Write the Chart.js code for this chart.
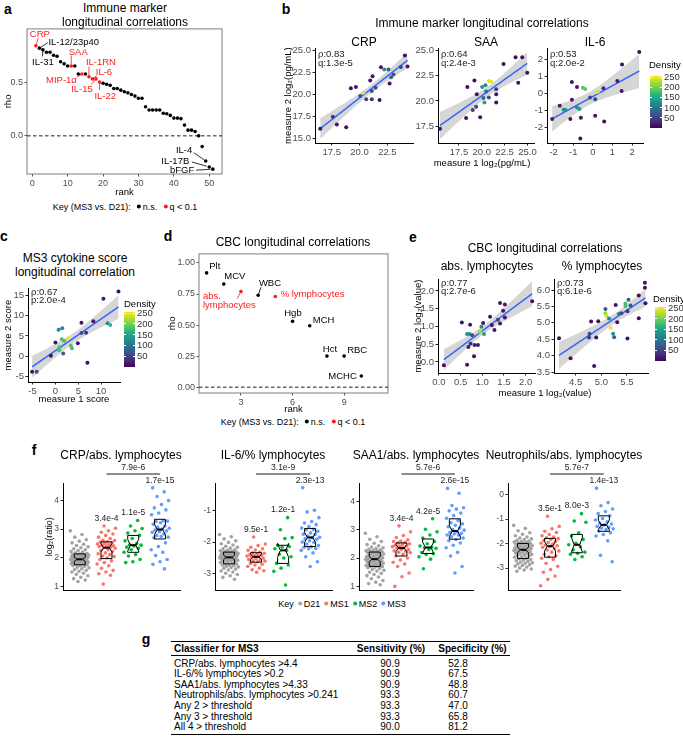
<!DOCTYPE html>
<html><head><meta charset="utf-8">
<script src="https://cdn.jsdelivr.net/npm/chart.js@4.4.1/dist/chart.umd.min.js"></script>
<style>
html,body{margin:0;padding:0;background:#fff;}
#fig{position:relative;width:683px;height:751px;overflow:hidden;font-family:"Liberation Sans",Arial,Helvetica,sans-serif;color:#000;}
.t{position:absolute;white-space:nowrap;line-height:1;}
canvas{position:absolute;}
.dot{display:inline-block;width:4px;height:4px;border-radius:50%;vertical-align:middle;margin:0 2px 1px 4px;}
.rule{position:absolute;background:#000;}
</style></head><body><div id="fig"></div>
<script>
// ================= DATA =================
// panel a
const aRank = [1,2,3,4,5,6,7,8,9,10,11,12,13,14,15,16,17,18,19,20,21,22,23,24,25,26,27,28,29,30,31,32,33,34,35,36,37,38,39,40,41,42,43,44,45,46,47,48,49,50,51];
const aRho = [0.838,0.816,0.800,0.778,0.778,0.750,0.740,0.690,0.670,0.650,
              0.650,0.650,0.575,0.575,0.575,0.550,0.530,0.530,0.500,0.490,
              0.480,0.470,0.440,0.440,0.425,0.410,0.400,0.385,0.370,0.350,
              0.350,0.270,0.240,0.240,0.240,0.240,0.210,0.205,0.190,0.165,
              0.165,0.160,0.100,0.053,0.053,0.040,0.000,-0.100,-0.234,-0.290,-0.310];
const aSigRanks = [1,11,14,16,17,18,19];
const aLabelRanks = [1,2,3,11,14,16,17,18,19,49,50,51];
const aLabelNames = ['CRP','IL-12/23p40','IL-31','SAA','MIP-1α','IL-1RN','IL-6','IL-15','IL-22','IL-4','IL-17B','bFGF'];

// panel b
const bCrpX = [16.47,17.6,17.96,18.8,19.22,19.67,20.06,20.36,20.6,20.96,21.1,21.17,21.1,21.44,21.8,21.92,22.22,22.6,22.7,22.84,23.05,23.71,24.07,24.31];
const bCrpY = [16.05,17.43,16.54,16.24,20.66,20.81,19.79,20.17,19.42,21.55,20.36,22.04,19.42,20.73,19.34,23.05,22.79,22.79,21.22,21.93,22.23,23.09,24.4,23.13];
const bCrpD = [10,40,15,10,10,15,70,250,50,15,60,15,40,60,10,15,130,80,10,80,70,50,10,15];
const bSaaX = [15.42,18.28,18.42,19.01,19.19,19.38,19.45,19.82,20.04,20.18,20.29,20.4,20.48,20.77,21.03,20.77,21.58,21.58,21.58,22.38,23.7,23.99,24.43,24.98];
const bSaaY = [17.27,18.33,21.38,19.11,22.02,19.43,20.66,18.40,21.38,20.28,19.85,21.54,20.92,21.96,21.9,20.34,21.15,20.66,19.85,23.64,24.29,21.8,24.29,22.77];
const bSaaD = [10,10,10,40,10,50,15,10,130,80,140,120,90,240,250,60,50,15,10,10,10,10,10,10];
const bIl6X = [-2.08,-1.69,-1.49,-1.41,-1.15,-1.07,-1.07,-0.81,-0.81,-0.68,-0.64,-0.61,-0.51,-0.39,-0.14,0.12,0.12,0.25,0.54,0.58,1.25,1.47,1.49,2.37];
const bIl6Y = [-1.5,-0.72,-0.96,-0.96,-1.5,-0.37,0.68,0.39,-0.82,-0.92,-2.67,-1.44,0.35,0.27,-0.23,-0.33,-1.31,0.1,0.31,-1.66,0.74,0.16,1.72,2.46];
const bIl6D = [20,20,130,130,15,15,15,15,120,140,10,15,190,190,60,50,15,240,30,10,20,15,10,10];

// panel c
const cX = [-5.1,-4.1,-1.0,0,0.7,1.5,1.4,1.9,0.9,0.8,1.7,2.8,3.4,3.6,4.9,5.7,5.7,6.7,7.0,8.3,10.5,11.4,12.0,13.8];
const cY = [-3.8,-3.8,0.16,3.4,6.5,6.9,4.2,3.8,2.2,1.5,0.7,4.4,2.6,2.0,3.2,8.2,5.7,5.8,-1.6,8.6,14.1,8.1,7.7,15.9];
const cD = [15,60,15,15,120,120,180,180,180,180,80,250,180,180,15,15,60,40,10,15,15,120,170,10];

// panel d
const dRank = [1,2,3,4,5,6,7,8,9,10];
const dRho = [0.92,0.83,0.77,0.74,0.73,0.53,0.495,0.25,0.25,0.09];
const dNames = ['Plt','MCV','abs. lymphocytes','WBC','% lymphocytes','Hgb','MCH','Hct','RBC','MCHC'];
const dSig = [0,0,1,0,1,0,0,0,0,0];

// panel e
const eAbsX = [0.115,0.53,0.65,0.65,0.71,0.72,0.68,0.73,0.77,0.82,0.81,0.90,0.94,0.98,1.02,1.04,1.18,1.22,1.28,1.36,1.41,1.41,1.48,1.52,1.52,2.15];
const eAbsY = [-0.09,1.11,-0.08,0.79,0.79,1.05,0.42,0.51,0.75,0.48,0.16,0.48,0.85,0.99,1.10,0.79,1.27,1.04,0.90,1.19,1.66,1.08,1.44,1.62,1.25,1.71];
const eAbsD = [10,10,10,130,130,15,20,30,70,20,10,15,220,120,15,140,15,15,15,50,15,15,15,15,15,10];
const ePctX = [4.175,4.40,4.76,4.77,4.80,4.86,4.90,4.94,5.08,5.08,5.10,5.15,5.18,5.23,5.25,5.28,5.31,5.34,5.39,5.47,5.47,5.51,5.51,5.53,5.57,5.73,5.73,5.85,5.85,5.86];
const ePctY = [4.53,3.92,4.55,4.67,5.04,3.68,4.55,5.05,5.42,5.29,5.21,5.13,4.85,4.67,4.56,5.54,5.02,5.27,5.29,5.59,5.51,5.35,4.52,5.70,5.53,5.83,5.14,6.22,6.07,5.60];
const ePctD = [10,10,50,60,10,10,10,10,70,220,240,120,250,130,80,10,10,120,60,180,180,40,10,70,70,10,10,10,10,10];

// panel f (log2 ratios per group: D21, MS1, MS2, MS3)
const fGroups = ['D21','MS1','MS2','MS3'];
const fCrpD21 = [2.94,2.81,2.72,2.63,2.58,2.52,2.47,2.43,2.38,2.35,2.31,2.28,2.25,2.22,2.2,2.17,2.15,
  2.13,2.12,2.11,2.1,2.09,2.08,2.07,2.06,2.05,2.04,2.03,2.02,2.0,1.99,1.98,1.96,1.95,
  1.94,1.93,1.92,1.91,1.9,1.88,1.87,1.86,1.85,1.84,1.82,1.81,1.8,1.79,1.78,1.77,1.76,
  1.74,1.72,1.7,1.67,1.65,1.62,1.59,1.56,1.53,1.5,1.46,1.42,1.37,1.32,1.27,1.22,1.17];
const fCrpMS1 = [3.11,3.03,2.94,2.89,2.83,2.78,2.72,2.67,2.61,2.6,2.56,2.55,2.52,2.5,2.48,2.45,2.44,2.42,2.41,2.39,2.37,2.35,2.33,2.28,2.25,2.22,2.17,2.14,2.11,2.06,2.04,2.0,1.94,1.89,1.83,1.78,1.72,1.63,1.56,1.5,1.44,1.39,1.08];
const fCrpMS2 = [3.3,3.11,3.02,2.94,2.86,2.78,2.67,2.59,2.5,2.45,2.44,2.41,2.37,2.33,2.28,2.19,2.11,2.06,1.94,1.86,1.83];
const fCrpMS3 = [4.44,4.3,4.14,4.0,3.86,3.74,3.67,3.56,3.5,3.29,3.27,3.28,3.22,3.17,3.11,3.06,3.03,3.0,2.97,2.94,2.91,2.89,2.83,2.78,2.72,2.74,2.7,2.52,2.39,2.28,2.19,2.08,1.94,1.86,1.77,1.61];
const fIl6D21 = [-1.76,-1.83,-1.9,-1.96,-2.01,-2.05,-2.09,-2.13,-2.16,-2.19,-2.21,-2.24,-2.26,-2.27,-2.29,-2.3,-2.31,
  -2.32,-2.33,-2.34,-2.35,-2.36,-2.37,-2.38,-2.39,-2.4,-2.41,-2.42,-2.43,-2.44,-2.45,-2.46,-2.47,
  -2.48,-2.49,-2.5,-2.51,-2.52,-2.53,-2.54,-2.55,-2.56,-2.57,-2.58,-2.6,-2.61,-2.62,-2.64,-2.66,
  -2.68,-2.69,-2.71,-2.72,-2.74,-2.76,-2.78,-2.8,-2.82,-2.85,-2.88,-2.91,-2.94,-2.98,-3.02,-3.06,-3.11,-3.17];
const fIl6MS1 = [-1.84,-2.06,-2.11,-2.16,-2.21,-2.25,-2.26,-2.31,-2.34,-2.35,-2.38,-2.4,-2.41,-2.42,-2.44,-2.45,-2.48,-2.5,-2.52,-2.55,-2.55,-2.59,-2.6,-2.62,-2.67,-2.7,-2.72,-2.77,-2.82,-2.87,-2.9,-2.95];
const fIl6MS2 = [-1.23,-1.61,-1.86,-1.89,-2.1,-2.14,-2.16,-2.21,-2.26,-2.38,-2.46,-2.5,-2.67,-2.72,-2.82,-2.92,-3.35];
const fIl6MS3 = [-0.29,-1.0,-1.05,-1.23,-1.35,-1.4,-1.45,-1.51,-1.56,-1.6,-1.61,-1.66,-1.71,-1.75,-1.76,-1.81,-1.85,-1.86,-1.9,-1.91,-1.96,-2.0,-2.01,-2.06,-2.11,-2.15,-2.16,-2.2,-2.21,-2.26,-2.34,-2.46,-2.62,-2.77];
const fSaaD21 = [2.87,2.75,2.66,2.58,2.52,2.47,2.43,2.39,2.36,2.33,2.31,2.29,2.27,2.25,2.24,2.23,2.22,
  2.2,2.19,2.17,2.15,2.14,2.12,2.1,2.09,2.07,2.05,2.04,2.02,2.01,1.99,1.98,1.97,1.96,
  1.95,1.93,1.92,1.9,1.88,1.87,1.85,1.83,1.82,1.8,1.78,1.77,1.75,1.74,1.72,1.71,1.7,
  1.68,1.66,1.63,1.6,1.57,1.54,1.5,1.46,1.42,1.38,1.33,1.27,1.21,1.15,1.1,1.06];
const fSaaMS1 = [3.13,2.92,2.79,2.72,2.64,2.6,2.58,2.55,2.53,2.5,2.47,2.45,2.42,2.41,2.4,2.36,2.35,2.3,2.3,2.25,2.24,2.2,2.19,2.13,2.07,2.0,1.93,1.85,1.79,1.7,1.47,1.34,1.0];
const fSaaMS2 = [3.38,3.01,2.92,2.81,2.7,2.58,2.5,2.42,2.38,2.36,2.34,2.3,2.19,2.15,2.12,2.04,1.96,1.62];
const fSaaMS3 = [4.45,4.28,3.85,3.77,3.72,3.66,3.58,3.49,3.4,3.32,3.24,3.2,3.15,3.1,3.06,3.0,2.98,2.92,2.9,2.87,2.85,2.81,2.8,2.75,2.7,2.65,2.61,2.53,2.45,2.36,2.2,2.07,1.7,1.47];
const fNeuD21 = [-1.26,-1.38,-1.48,-1.56,-1.62,-1.68,-1.73,-1.77,-1.81,-1.84,-1.87,-1.9,-1.92,-1.94,-1.96,-1.98,-1.99,
  -2.01,-2.03,-2.05,-2.07,-2.09,-2.1,-2.12,-2.14,-2.15,-2.17,-2.18,-2.2,-2.21,-2.23,-2.24,-2.25,-2.26,
  -2.28,-2.3,-2.32,-2.34,-2.36,-2.38,-2.4,-2.42,-2.45,-2.47,-2.49,-2.51,-2.54,-2.56,-2.59,-2.62,-2.65,
  -2.67,-2.7,-2.72,-2.75,-2.78,-2.8,-2.83,-2.86,-2.89,-2.92,-2.96,-3.0,-3.04,-3.08,-3.13];
const fNeuMS1 = [-0.89,-1.3,-1.4,-1.5,-1.55,-1.63,-1.68,-1.73,-1.76,-1.8,-1.83,-1.88,-1.92,-1.96,-1.99,-2.03,-2.06,-2.09,-2.12,-2.15,-2.2,-2.26,-2.3,-2.35,-2.44,-2.5,-2.54,-2.6,-2.65,-2.8,-2.93,-3.06,-3.17,-3.32,-3.46,-3.72];
const fNeuMS2 = [-0.78,-1.08,-1.13,-1.56,-1.69,-1.83,-1.99,-2.05,-2.13,-2.26,-2.35,-2.4,-2.44,-2.54,-2.65];
const fNeuMS3 = [0.26,-0.33,-0.46,-0.59,-0.69,-0.78,-0.87,-0.98,-1.04,-1.11,-1.17,-1.2,-1.24,-1.3,-1.34,-1.37,-1.4,-1.43,-1.5,-1.56,-1.63,-1.69,-1.89,-2.48,-2.74];
const fPvals = {
  crp:['3.4e-4','1.1e-5','1.7e-15','7.9e-6'],
  il6:['9.5e-1','1.2e-1','2.3e-13','3.1e-9'],
  saa:['3.4e-4','4.2e-5','2.6e-15','5.7e-6'],
  neu:['3.5e-1','8.0e-3','1.4e-13','5.7e-7']
};

// panel g
const gClassifiers = ['CRP/abs. lymphocytes >4.4','IL-6/% lymphocytes >0.2','SAA1/abs. lymphocytes >4.33','Neutrophils/abs. lymphocytes >0.241','Any 2 > threshold','Any 3 > threshold','All 4 > threshold'];
const gSensitivity = ['90.9','90.9','90.9','93.3','93.3','93.3','90.0'];
const gSpecificity = ['52.8','67.5','48.8','60.7','47.0','65.8','81.2'];

// ================= LAYOUT / STYLE =================
const FONT = '"Liberation Sans", Arial, Helvetica, sans-serif';
Chart.defaults.font.family = FONT;
const fig = document.getElementById('fig');
const RED = '#ff1a1a';
const FCOL = ['#a3a3a3','#F8766D','#00BA38','#619CFF'];
const VIR = ['#440154','#472d7b','#3b528b','#2c728e','#21918c','#28ae80','#5ec962','#addc30','#fde725'];
function hex2rgb(h){return [1,3,5].map(i=>parseInt(h.substr(i,2),16));}
function viridis(t){t=Math.max(0,Math.min(1,t));const p=t*(VIR.length-1),i=Math.min(VIR.length-2,Math.floor(p)),f=p-i;const a=hex2rgb(VIR[i]),b=hex2rgb(VIR[i+1]);return 'rgb('+a.map((v,k)=>Math.round(v+(b[k]-v)*f)).join(',')+')';}
const DMAX = 255;
const dcol = d => viridis(d/DMAX);

function T(x,y,s,o){o=o||{};const d=document.createElement('div');d.className='t';
  if(o.html) d.innerHTML=s; else d.textContent=s;
  d.style.fontSize=(o.size||9)+'px'; if(o.bold) d.style.fontWeight='bold'; if(o.color) d.style.color=o.color;
  const ax=o.align==='left'?0:(o.align==='right'?-100:-50);
  d.style.left=x+'px'; d.style.top=y+'px'; d.style.transform='translate('+ax+'%,-50%)';
  fig.appendChild(d); return d;}
function rule(x,y,w,h){const d=document.createElement('div');d.className='rule';d.style.left=x+'px';d.style.top=y+'px';d.style.width=w+'px';d.style.height=h+'px';fig.appendChild(d);}

function lmBand(xs,ys){
  const n=xs.length,mx=xs.reduce((a,b)=>a+b,0)/n,my=ys.reduce((a,b)=>a+b,0)/n;
  let sxx=0,sxy=0;for(let i=0;i<n;i++){sxx+=(xs[i]-mx)**2;sxy+=(xs[i]-mx)*(ys[i]-my);}
  const b=sxy/sxx,a=my-b*mx;let sse=0;for(let i=0;i<n;i++){sse+=(ys[i]-a-b*xs[i])**2;}
  const df=n-2,s=Math.sqrt(sse/df),z=1.959964;
  const t=z+(z**3+z)/(4*df)+(5*z**5+16*z**3+3*z)/(96*df*df);
  const x0=Math.min(...xs),x1=Math.max(...xs),line=[],up=[],lo=[];
  for(let k=0;k<=80;k++){const x=x0+(x1-x0)*k/80,yh=a+b*x,se=s*Math.sqrt(1/n+(x-mx)**2/sxx);
    line.push({x:x,y:yh});up.push({x:x,y:yh+t*se});lo.push({x:x,y:yh-t*se});}
  return {line,up,lo};
}

function makePlot(cfg){
  const [L,T0,R,B]=cfg.box, pt=cfg.pt??6, pr=cfg.pr??6, yW=cfg.yW, xH=cfg.xH;
  const W=yW+(R-L)+pr, Hc=pt+(B-T0)+xH;
  const c=document.createElement('canvas');c.width=W;c.height=Hc;
  c.style.left=(L-yW)+'px';c.style.top=(T0-pt)+'px';c.style.width=W+'px';c.style.height=Hc+'px';
  fig.appendChild(c);
  const tickCol=cfg.frame?'#555':'#222';
  const xt=cfg.xticks||[], yt=cfg.yticks||[];
  const ts=cfg.tickSize||9.5, tts=cfg.titleSize||9.5;
  new Chart(c,{type:'line',data:{datasets:cfg.datasets},
    options:{responsive:false,animation:false,devicePixelRatio:1,events:[],
      layout:{padding:{left:0,top:pt,right:pr,bottom:0},autoPadding:false},
      plugins:{legend:{display:false},tooltip:{enabled:false},title:{display:false}},
      elements:{line:{tension:0}},
      scales:{
        x:{type:'linear',position:'bottom',min:cfg.xmin,max:cfg.xmax,
          afterBuildTicks:s=>{s.ticks=xt.map(v=>({value:v}));},
          afterFit:s=>{s.height=xH;},
          ticks:{display:xt.length>0,autoSkip:false,maxRotation:0,minRotation:0,padding:1.5,color:'#4d4d4d',font:{size:ts},callback:v=>cfg.xfmt?cfg.xfmt(v):String(v)},
          grid:{display:true,drawOnChartArea:false,drawTicks:xt.length>0,tickLength:2.5,tickColor:tickCol,tickWidth:1},
          border:{display:!cfg.frame,color:'#000',width:1},
          title:cfg.xtitle?{display:true,text:cfg.xtitle,color:'#000',font:{size:tts},padding:{top:0,bottom:0}}:{display:false}},
        y:{type:'linear',position:'left',min:cfg.ymin,max:cfg.ymax,
          afterBuildTicks:s=>{s.ticks=yt.map(v=>({value:v}));},
          afterFit:s=>{s.width=yW;},
          ticks:{display:true,autoSkip:false,padding:1.5,color:'#4d4d4d',font:{size:ts},callback:v=>cfg.yfmt?cfg.yfmt(v):String(v)},
          grid:{display:true,drawOnChartArea:false,drawTicks:true,tickLength:2.5,tickColor:tickCol,tickWidth:1},
          border:{display:!cfg.frame,color:'#000',width:1},
          title:cfg.ytitle?{display:true,text:cfg.ytitle,color:'#000',font:{size:tts},padding:{top:cfg.ytp??2,bottom:0}}:{display:false}}
      }},
    plugins:[{id:'custom',afterDatasetsDraw(chart){
      const ctx=chart.ctx,a=chart.chartArea;ctx.save();
      if(cfg.frame){ctx.strokeStyle='#7f7f7f';ctx.lineWidth=1;ctx.strokeRect(a.left,a.top,a.right-a.left,a.bottom-a.top);}
      if(cfg.draw) cfg.draw(chart,ctx);
      ctx.restore();}}]
  });
}

const f1=v=>v.toFixed(1), f0=v=>String(Math.round(v)), f2=v=>v.toFixed(2);

function zeroLine(chart,ctx){const y=chart.scales.y.getPixelForValue(0),a=chart.chartArea;
  ctx.save();ctx.strokeStyle='#000';ctx.lineWidth=0.9;ctx.setLineDash([3.5,2.5]);ctx.beginPath();ctx.moveTo(a.left,y);ctx.lineTo(a.right,y);ctx.stroke();ctx.restore();}

function drawTextLabels(chart,ctx,items){
  ctx.font='9.5px '+FONT;ctx.textBaseline='middle';
  items.forEach(it=>{const px=chart.scales.x.getPixelForValue(it.x),py=chart.scales.y.getPixelForValue(it.y),L=it.lay;
    ctx.fillStyle=it.color;ctx.strokeStyle=it.color;ctx.lineWidth=0.8;
    if(L.lx!==undefined){ctx.beginPath();ctx.moveTo(px+L.lx*0.15,py+L.ly*0.15);ctx.lineTo(px+L.lx,py+L.ly);ctx.stroke();}
    ctx.textAlign=L.align||'center';
    const lines=L.lines||[it.text];
    lines.forEach((s,k)=>ctx.fillText(s,px+L.dx,py+L.dy+k*9.2));
  });
}

// ---------- panel a ----------
const aLay={'CRP':{dx:4,dy:-11.5,lx:2.5,ly:-8},'IL-12/23p40':{dx:9,dy:-6,align:'left',lx:8.5,ly:-5.5},
 'IL-31':{dx:0,dy:12.5,lx:-0.5,ly:6.5},'SAA':{dx:7,dy:-14,lx:0,ly:-10.5},'MIP-1α':{dx:-5,dy:6.3,align:'right',lx:-4.7,ly:2.7},
 'IL-1RN':{dx:12,dy:-14.6,lx:0,ly:-10},'IL-6':{dx:11.5,dy:-7,lx:4.3,ly:-3.3},'IL-15':{dx:-3.2,dy:10.7,align:'right',lx:-4.7,ly:5.7},
 'IL-22':{dx:5.7,dy:14,lx:0,ly:7.7},'IL-4':{dx:-13.4,dy:-11,align:'right',lx:-12,ly:-8.3},
 'IL-17B':{dx:-20,dy:-5.7,align:'right',lx:-17.3,ly:-5},'bFGF':{dx:-18.5,dy:1.7,align:'right',lx:-16.7,ly:1}};
makePlot({box:[27,28,222,174],yW:27,xH:24,pt:6,pr:6,ytp:3,frame:true,tickSize:9,
  xmin:-1.5,xmax:53.6,ymin:-0.355,ymax:0.995,xticks:[0,10,20,30,40,50],yticks:[0,0.5],xfmt:f0,yfmt:f1,
  xtitle:'rank',ytitle:'rho',
  datasets:[
    {data:aRank.map((r,i)=>({x:r,y:aRho[i]})).filter(p=>aSigRanks.includes(p.x)),showLine:false,pointRadius:1.8,pointBorderWidth:0,pointBackgroundColor:RED,clip:false},
    {data:aRank.map((r,i)=>({x:r,y:aRho[i]})).filter(p=>!aSigRanks.includes(p.x)),showLine:false,pointRadius:1.8,pointBorderWidth:0,pointBackgroundColor:'#000',clip:false}
  ],
  draw:(ch,ctx)=>{zeroLine(ch,ctx);
    drawTextLabels(ch,ctx,aLabelRanks.map((r,k)=>({x:r,y:aRho[r-1],text:aLabelNames[k],color:aSigRanks.includes(r)?RED:'#000',lay:aLay[aLabelNames[k]]})));}
});

// ---------- density scatter helper ----------
function densityPlot(o){
  const bd=lmBand(o.xs,o.ys);
  makePlot(Object.assign({xH:16,pt:6,pr:6,
    datasets:[
      {data:o.xs.map((x,i)=>({x:x,y:o.ys[i]})),showLine:false,pointRadius:2,pointBorderWidth:0,pointBackgroundColor:o.ds.map(dcol),clip:false},
      {data:bd.line,showLine:true,borderColor:'#3366FF',borderWidth:1.5,pointRadius:0,fill:false},
      {data:bd.up,showLine:true,borderWidth:0,borderColor:'rgba(0,0,0,0)',pointRadius:0,fill:'+1',backgroundColor:'rgba(153,153,153,0.4)'},
      {data:bd.lo,showLine:true,borderWidth:0,borderColor:'rgba(0,0,0,0)',pointRadius:0,fill:false}
    ],
    draw:(ch,ctx)=>{const a=ch.chartArea;ctx.font='9.5px '+FONT;ctx.fillStyle='#222';ctx.textAlign='left';ctx.textBaseline='middle';
      ctx.fillText(o.annot[0],a.left+3,a.top+o.ay[0]);ctx.fillText(o.annot[1],a.left+3,a.top+o.ay[1]);}
  },o.cfg));
}

// ---------- panel b ----------
densityPlot({xs:bCrpX,ys:bCrpY,ds:bCrpD,annot:['ρ:0.83','q:1.3e-5'],ay:[6.5,15],
  cfg:{box:[315,47,413,143],yW:35,ytp:3,xmin:16.0,xmax:24.8,ymin:14.44,ymax:25.22,xticks:[17.5,20,22.5],yticks:[15,17.5,20,22.5,25],xfmt:f1,yfmt:f1,ytitle:'measure 2 log₂(pg/mL)'}});
densityPlot({xs:bSaaX,ys:bSaaY,ds:bSaaD,annot:['ρ:0.64','q:2.4e-3'],ay:[6.5,15],
  cfg:{box:[438,47,534,143],yW:25,xmin:15.2,xmax:25.72,ymin:15.86,ymax:25.19,xticks:[17.5,20,22.5,25],yticks:[17.5,20,22.5,25],xfmt:f1,yfmt:f1}});
densityPlot({xs:bIl6X,ys:bIl6Y,ds:bIl6D,annot:['ρ:0.53','q:2.0e-2'],ay:[6.5,15],
  cfg:{box:[547,47,643,143],yW:20,xmin:-2.34,xmax:2.56,ymin:-2.93,ymax:2.69,xticks:[-2,-1,0,1,2],yticks:[-2,-1,0,1,2],xfmt:f0,yfmt:f0}});

// ---------- panel c ----------
densityPlot({xs:cX,ys:cY,ds:cD,annot:['ρ:0.67','p:2.0e-4'],ay:[4,12.5],
  cfg:{box:[28,287,120,382],yW:28,xH:23,ytp:3,xmin:-6.0,xmax:14.13,ymin:-6.3,ymax:16.7,xticks:[-5,0,5,10],yticks:[-5,0,5,10,15],xfmt:f0,yfmt:f0,xtitle:'measure 1 score',ytitle:'measure 2 score'}});

// ---------- panel d ----------
const dLay={'Plt':{dx:2.7,dy:-7,align:'left'},'MCV':{dx:0.5,dy:-7.5,align:'left'},
 'abs. lymphocytes':{dx:-38,dy:5,align:'left',lines:['abs.','lymphocytes'],lx:-3.7,ly:7},
 'WBC':{dx:11.8,dy:-12.3,lx:2.8,ly:-8},'% lymphocytes':{dx:5.3,dy:-2,align:'left'},
 'Hgb':{dx:0.4,dy:-7.5},'MCH':{dx:3,dy:-5,align:'left'},'Hct':{dx:3,dy:-7},'RBC':{dx:3,dy:-6,align:'left'},'MCHC':{dx:-4.5,dy:0.7,align:'right'}};
makePlot({box:[199,251,388,393],yW:32,xH:22,pt:4,pr:4,ytp:0,frame:true,tickSize:9,
  xmin:0.56,xmax:11.55,ymin:-0.047,ymax:1.073,xticks:[3,6,9],yticks:[0,0.25,0.5,0.75,1],xfmt:f0,yfmt:f2,
  xtitle:'rank',ytitle:'rho',
  datasets:[
    {data:dRank.map((r,i)=>({x:r,y:dRho[i]})).filter((p,i)=>dSig[i]),showLine:false,pointRadius:1.8,pointBorderWidth:0,pointBackgroundColor:RED,clip:false},
    {data:dRank.map((r,i)=>({x:r,y:dRho[i]})).filter((p,i)=>!dSig[i]),showLine:false,pointRadius:1.8,pointBorderWidth:0,pointBackgroundColor:'#000',clip:false}
  ],
  draw:(ch,ctx)=>{zeroLine(ch,ctx);
    drawTextLabels(ch,ctx,dRank.map((r,i)=>({x:r,y:dRho[i],text:dNames[i],color:dSig[i]?RED:'#000',lay:dLay[dNames[i]]})));}
});

// ---------- panel e ----------
densityPlot({xs:eAbsX,ys:eAbsY,ds:eAbsD,annot:['ρ:0.77','q:2.7e-6'],ay:[4,12.5],
  cfg:{box:[438,278,535,373],yW:28,ytp:3,xmin:-0.02,xmax:2.215,ymin:-0.31,ymax:2.33,xticks:[0,0.5,1,1.5,2],yticks:[0,0.5,1,1.5,2],xfmt:f1,yfmt:f1,ytitle:'measure 2 log₂(value)'}});
densityPlot({xs:ePctX,ys:ePctY,ds:ePctD,annot:['ρ:0.73','q:6.1e-6'],ay:[4,12.5],
  cfg:{box:[554,278,648,373],yW:22,xmin:4.077,xmax:5.91,ymin:3.47,ymax:6.33,xticks:[4.5,5,5.5],yticks:[3.5,4,4.5,5,5.5,6],xfmt:f1,yfmt:f1}});

// ---------- panel f ----------
function quant(s,p){const h=(s.length-1)*p,lo=Math.floor(h),hi=Math.ceil(h);return s[lo]+(s[hi]-s[lo])*(h-lo);}
function jit(i,g){const f=(i*0.6180339887+g*0.37)%1;return (f-0.5)*0.7;}
function fPlot(cfg,groups,pv){
  makePlot(Object.assign({xH:2,pt:28,pr:4,yW:18,ytp:1.5,tickSize:8.5,titleSize:9,xticks:[],yfmt:f0,
    datasets:groups.map((vals,g)=>({data:vals.map((v,i)=>({x:g+1+jit(i,g),y:v})),showLine:false,pointRadius:1.8,pointBorderWidth:0,pointBackgroundColor:FCOL[g],clip:false})),
    draw:(ch,ctx)=>{const X=v=>ch.scales.x.getPixelForValue(v),Y=v=>ch.scales.y.getPixelForValue(v),a=ch.chartArea;
      ctx.strokeStyle='#000';ctx.lineWidth=1;
      groups.forEach((vals,g)=>{const s=[...vals].sort((p,q)=>p-q),q1=quant(s,0.25),md=quant(s,0.5),q3=quant(s,0.75);
        const nd=1.58*(q3-q1)/Math.sqrt(s.length),nu=md+nd,nl=md-nd,cx=X(g+1),hw=5.5,ind=hw*0.5;
        ctx.lineWidth=1;ctx.beginPath();
        ctx.moveTo(cx-hw,Y(q3));ctx.lineTo(cx-hw,Y(nu));ctx.lineTo(cx-hw+ind,Y(md));ctx.lineTo(cx-hw,Y(nl));ctx.lineTo(cx-hw,Y(q1));
        ctx.lineTo(cx+hw,Y(q1));ctx.lineTo(cx+hw,Y(nl));ctx.lineTo(cx+hw-ind,Y(md));ctx.lineTo(cx+hw,Y(nu));ctx.lineTo(cx+hw,Y(q3));ctx.closePath();ctx.stroke();
        ctx.lineWidth=2;ctx.beginPath();ctx.moveTo(cx-hw+ind,Y(md));ctx.lineTo(cx+hw-ind,Y(md));ctx.stroke();
      });
      ctx.font='8.5px '+FONT;ctx.fillStyle='#222';ctx.textAlign='center';ctx.textBaseline='middle';
      for(let g=1;g<4;g++){ctx.fillText(pv[g-1],X(g+1),Y(Math.max(...groups[g]))-7.5);}
      ctx.lineWidth=0.9;ctx.beginPath();ctx.moveTo(X(2),a.top-9);ctx.lineTo(X(4),a.top-9);ctx.stroke();
      ctx.fillText(pv[3],X(3),a.top-15.5);
    }},cfg));
}
fPlot({box:[63,483,180,595],yW:20,xmin:0.374,xmax:4.75,ymin:0.86,ymax:4.61,yticks:[1,2,3,4],ytitle:'log₂(ratio)'},[fCrpD21,fCrpMS1,fCrpMS2,fCrpMS3],fPvals.crp);
fPlot({box:[215,483,332,595],xmin:0.48,xmax:4.81,ymin:-3.52,ymax:-0.14,yticks:[-3,-2,-1]},[fIl6D21,fIl6MS1,fIl6MS2,fIl6MS3],fPvals.il6);
fPlot({box:[359,483,473,595],xmin:0.41,xmax:4.68,ymin:0.86,ymax:4.64,yticks:[1,2,3,4]},[fSaaD21,fSaaMS1,fSaaMS2,fSaaMS3],fPvals.saa);
fPlot({box:[508,483,620,595],xmin:0.44,xmax:4.6,ymin:-3.91,ymax:0.47,yticks:[-3,-2,-1,0]},[fNeuD21,fNeuMS1,fNeuMS2,fNeuMS3],fPvals.neu);

// ================= TEXT =================
const P={size:14,bold:true};
T(8,9,'a',P);T(286,9,'b',P);T(4,236,'c',P);T(168,236,'d',P);T(413,237,'e',P);T(34,450,'f',P);T(146,639,'g',P);
const H=12;
T(125,8,'Immune marker',{size:H});T(125,21.5,'longitudinal correlations',{size:H});
T(125,207,'Key (MS3 vs. D21):<span class="dot" style="background:#000;margin-left:6px"></span>n.s.<span class="dot" style="background:'+RED+';margin-left:6px"></span>q &lt; 0.1',{html:true,size:9});
T(482,23,'Immune marker longitudinal correlations',{size:H});
T(364,42,'CRP',{size:H});T(486,42,'SAA',{size:H});T(595,42,'IL-6',{size:H});
T(482,163,'measure 1 log₂(pg/mL)',{size:9.5});
T(75,258,'MS3 cytokine score',{size:H});T(75,272,'longitudinal correlation',{size:H});
T(293,242,'CBC longitudinal correlations',{size:H});
T(293,422,'Key (MS3 vs. D21):<span class="dot" style="background:#000;margin-left:6px"></span>n.s.<span class="dot" style="background:'+RED+';margin-left:6px"></span>q &lt; 0.1',{html:true,size:9});
T(545,248,'CBC longitudinal correlations',{size:H});
T(487,266,'abs. lymphocytes',{size:H});T(602,266,'% lymphocytes',{size:H});
T(545,393,'measure 1 log₂(value)',{size:9.5});
T(121,455,'CRP/abs. lymphocytes',{size:H});T(273,455,'IL-6/% lymphocytes',{size:H});
T(416,455,'SAA1/abs. lymphocytes',{size:H});T(564,455,'Neutrophils/abs. lymphocytes',{size:H});
T(342,604,'Key'+fGroups.map((g,i)=>'<span class="dot" style="background:'+FCOL[i]+'"></span>'+g).join(''),{html:true,size:9});

// density colour bars
function colorbar(tx,ty,bx,by,bw,bh){
  T(tx,ty,'Density',{size:9.5,align:'left'});
  const d=document.createElement('div');d.style.cssText='position:absolute;left:'+bx+'px;top:'+by+'px;width:'+bw+'px;height:'+bh+'px;background:linear-gradient(to top,'+VIR.join(',')+')';fig.appendChild(d);
  [50,100,150,200,250].forEach(v=>{const y=by+(DMAX-v)/DMAX*bh;
    const tk=document.createElement('div');tk.style.cssText='position:absolute;left:'+bx+'px;top:'+(y-0.5)+'px;width:2px;height:1px;background:#fff';fig.appendChild(tk);
    const tk2=tk.cloneNode();tk2.style.left=(bx+bw-2)+'px';fig.appendChild(tk2);
    T(bx+bw+2,y,String(v),{size:9.5,align:'left',color:'#333'});});
}
colorbar(649,65,650,76,12,52);
colorbar(124,304,124,312,11,55);
colorbar(653,299,655,307,11,54);

// table g
rule(171,640.5,339,1.5);rule(171,655,339,1);rule(171,733.5,339,1.5);
T(174,648.5,'Classifier for MS3',{size:10,bold:true,align:'left'});
T(391,648.5,'Sensitivity (%)',{size:10,bold:true});
T(472.5,648.5,'Specificity (%)',{size:10,bold:true});
const gRowY=[664,674.3,684.5,694.7,705.8,716.5,727.2];
gClassifiers.forEach((s,i)=>{T(174,gRowY[i],s,{size:10,align:'left'});T(390,gRowY[i],gSensitivity[i],{size:10});T(458,gRowY[i],gSpecificity[i],{size:10});});
</script></body></html>
